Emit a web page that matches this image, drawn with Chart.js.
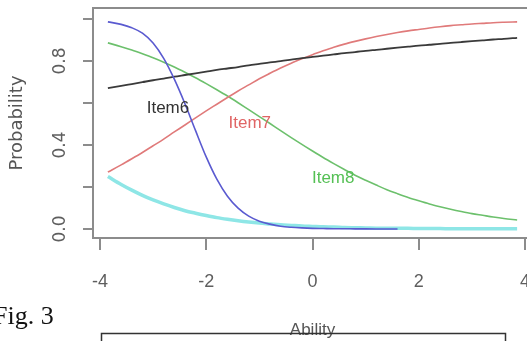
<!DOCTYPE html>
<html><head><meta charset="utf-8">
<script src="https://cdn.jsdelivr.net/npm/chart.js@4/dist/chart.umd.min.js"></script>
<style>
html,body{margin:0;padding:0;background:#fff;overflow:hidden;width:527px;height:341px}
#wrap{position:absolute;left:0;top:0;width:532px;height:341px}
</style>
</head><body><div id="wrap"><canvas id="c" width="532" height="341"></canvas></div>
<script>
const ability = [-3.85,-3.6,-3.4,-3.2,-3.0,-2.8,-2.6,-2.4,-2.2,-2.0,-1.8,-1.6,-1.4,-1.2,-1.0,-0.8,-0.6,-0.4,-0.2,0,0.2,0.4,0.6,0.8,1.0,1.2,1.4,1.6,1.8,2.0,2.2,2.4,2.6,2.8,3.0,3.2,3.4,3.6,3.85];
const item6 = [0.670,0.681,0.690,0.699,0.708,0.716,0.725,0.733,0.741,0.749,0.757,0.764,0.771,0.779,0.786,0.793,0.799,0.806,0.813,0.819,0.825,0.831,0.837,0.842,0.848,0.853,0.858,0.863,0.868,0.873,0.877,0.881,0.886,0.890,0.894,0.898,0.902,0.905,0.910];
const item7 = [0.271,0.305,0.334,0.364,0.396,0.428,0.462,0.495,0.529,0.562,0.594,0.626,0.657,0.686,0.715,0.741,0.766,0.789,0.810,0.830,0.848,0.865,0.880,0.893,0.905,0.916,0.926,0.935,0.943,0.950,0.957,0.963,0.968,0.972,0.976,0.979,0.982,0.984,0.986];
const item8 = [0.886,0.868,0.852,0.834,0.815,0.794,0.771,0.746,0.720,0.692,0.663,0.633,0.601,0.568,0.535,0.502,0.468,0.435,0.403,0.371,0.340,0.311,0.283,0.256,0.232,0.209,0.187,0.168,0.150,0.134,0.119,0.106,0.094,0.083,0.073,0.065,0.057,0.050,0.043];
const itemBlue = [0.986,0.974,0.958,0.932,0.885,0.812,0.713,0.596,0.468,0.343,0.237,0.156,0.099,0.061,0.037,0.023,0.013,0.008,0.005,0.003,0.002,0.001,0.001,0.0005,0.0003,0.0002,0.0001,0.0001,null,null,null,null,null,null,null,null,null,null,null];
const itemCyan = [0.250,0.212,0.185,0.160,0.138,0.119,0.102,0.087,0.075,0.064,0.054,0.046,0.039,0.033,0.028,0.024,0.020,0.017,0.014,0.012,0.010,0.009,0.007,0.006,0.005,0.004,0.004,0.003,0.003,0.002,0.002,0.002,0.001,0.001,0.001,0.001,0.001,0.001,0.001];
const itemNames = ['Item6','Item7','Item8'];
const itemLabelX = [-2.72,-1.18,0.39];
const itemLabelY = [0.576,0.505,0.243];
const xTickValues = [-4,-2,0,2,4];
const xTickLabels = ['-4','-2','0','2','4'];
const yTickValues = [0,0.2,0.4,0.6,0.8,1.0];
const yTickLabels = ['0.0','','0.4','','0.8',''];

const pts = arr => ability.map((x,i)=>({x:x,y:arr[i]}));

const overlay = {
  id:'overlay',
  afterDraw(chart){
    const {ctx, chartArea:a, scales:{x,y}} = chart;
    ctx.save();
    ctx.strokeStyle='#8c8c8c'; ctx.lineWidth=2;
    ctx.strokeRect(a.left, a.top, a.right-a.left, a.bottom-a.top);
    const cols = ['#333333','#e06565','#55c055'];
    ctx.font = '17px "Liberation Sans", Arial, sans-serif';
    ctx.textAlign='center'; ctx.textBaseline='middle';
    itemNames.forEach((n,i)=>{
      ctx.fillStyle = cols[i];
      ctx.fillText(n, x.getPixelForValue(itemLabelX[i]), y.getPixelForValue(itemLabelY[i]));
    });
    ctx.fillStyle='#111';
    ctx.font='26px "Liberation Serif", "Times New Roman", serif';
    ctx.textAlign='left'; ctx.textBaseline='alphabetic';
    ctx.fillText('Fig. 3', -7, 324);
    ctx.strokeStyle='#333'; ctx.lineWidth=1.5;
    ctx.beginPath(); ctx.moveTo(101.5,345); ctx.lineTo(101.5,333.5); ctx.lineTo(505.5,333.5); ctx.lineTo(505.5,345); ctx.stroke();
    ctx.restore();
  }
};

new Chart(document.getElementById('c'), {
  type:'line',
  data:{datasets:[
    {data:pts(itemBlue), borderColor:'#5a5ad0', borderWidth:1.6},
    {data:pts(item6), borderColor:'#3a3a3a', borderWidth:1.8},
    {data:pts(item7), borderColor:'#e07a7a', borderWidth:1.6},
    {data:pts(item8), borderColor:'#6cc06c', borderWidth:1.6},
    {data:pts(itemCyan), borderColor:'#8ee6e6', borderWidth:3.5}
  ]},
  options:{
    responsive:false, animation:false, devicePixelRatio:1,
    layout:{padding:{top:8,left:0,right:0,bottom:0}},
    elements:{point:{radius:0}, line:{cubicInterpolationMode:'monotone', fill:false}},
    plugins:{legend:{display:false}, tooltip:{enabled:false}},
    scales:{
      x:{type:'linear', min:-4.13, max:4.13,
        afterBuildTicks(s){ s.ticks = xTickValues.map(v=>({value:v})); },
        afterFit(s){ s.height = 103; s.paddingLeft=0; s.paddingRight=0; },
        grid:{drawOnChartArea:false, drawTicks:true, tickLength:12, color:'#8c8c8c', lineWidth:2},
        border:{display:false},
        ticks:{color:'#5e5e5e', font:{family:'"Liberation Sans", Arial, sans-serif', size:18}, padding:21, maxRotation:0, autoSkip:false,
          callback:(v,i)=>xTickLabels[i]},
        title:{display:true, text:'Ability', color:'#555', font:{family:'"Liberation Sans", Arial, sans-serif', size:17}, padding:{top:0,bottom:0}}
      },
      y:{type:'linear', min:-0.043, max:1.052,
        afterBuildTicks(s){ s.ticks = yTickValues.map(v=>({value:v})); },
        afterFit(s){ s.width = 93; s.paddingTop=0; s.paddingBottom=0; },
        grid:{drawOnChartArea:false, drawTicks:true, tickLength:10, color:'#8c8c8c', lineWidth:2},
        border:{display:false},
        ticks:{color:'#5e5e5e', font:{family:'"DejaVu Sans", sans-serif', size:17}, minRotation:90, maxRotation:90, crossAlign:'center', padding:9, autoSkip:false,
          callback:(v,i)=>yTickLabels[i]},
        title:{display:true, text:'Probability', color:'#555', font:{family:'"DejaVu Sans", sans-serif', size:18}, padding:{top:7,bottom:0}}
      }
    }
  },
  plugins:[overlay]
});
</script>
</body></html>
